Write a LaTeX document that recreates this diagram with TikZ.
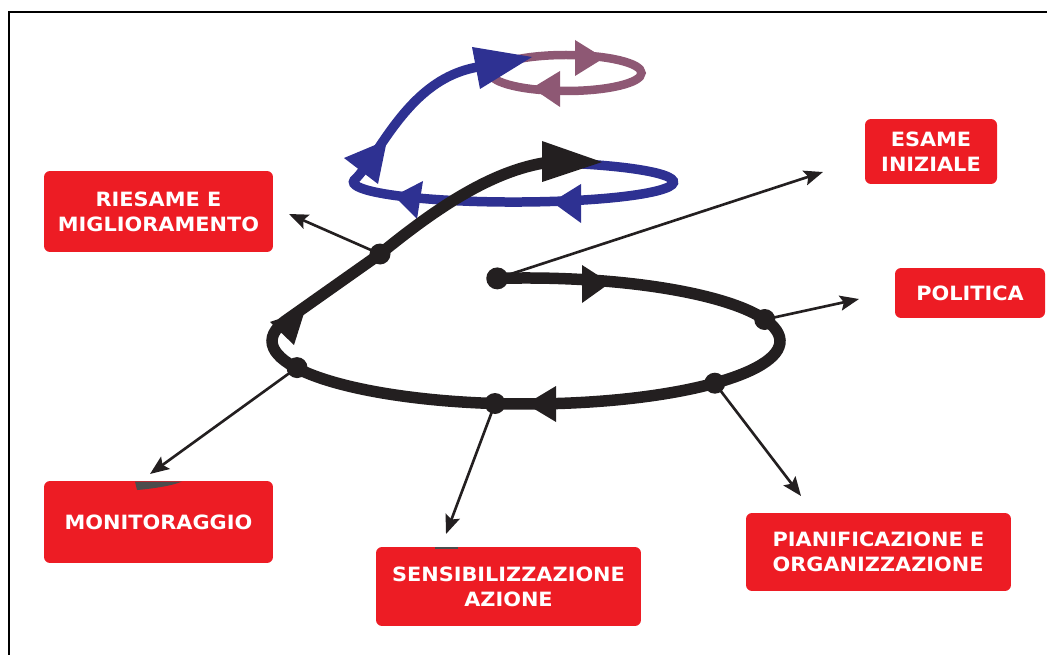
\documentclass[tikz,border=0pt]{standalone}
\usepackage{fontspec}
\newfontfamily\boxfont{DejaVu Sans}[FakeStretch=1.06]
\usetikzlibrary{arrows.meta}
\definecolor{boxred}{RGB}{237,28,36}
\definecolor{spblue}{RGB}{46,49,146}
\definecolor{spmauve}{RGB}{142,88,116}
\definecolor{spblack}{RGB}{35,31,32}
\begin{document}
\begin{tikzpicture}[x=0.02cm,y=-0.02cm,
  box/.style={fill=boxred, rounded corners=0.12cm, text=white,
    font=\boxfont\bfseries\fontsize{11.2pt}{14.4pt}\selectfont,
    align=center, inner sep=0pt},
  blackline/.style={draw=spblack, line width=0.23cm, line cap=round},
  blueline/.style={draw=spblue, line width=0.19cm},
  mauveline/.style={draw=spmauve, line width=0.17cm},
  pointer/.style={draw=spblack, line width=1.5pt,
    -{Stealth[length=0.38cm,width=0.3cm,inset=0.07cm]}},
  dotmark/.style={fill=spblack}]
\useasboundingbox (0,0) rectangle (1047,655);
% frame
\draw[line width=1pt, black] (9,655) -- (9,12) -- (1047,12);

% boxes
\node[box, minimum width=4.58cm, minimum height=1.62cm] (riesame) at (158.5,211.5) {RIESAME E\\MIGLIORAMENTO};
\node[box, minimum width=2.64cm, minimum height=1.30cm] (esame) at (931,151.5) {ESAME\\INIZIALE};
\node[box, minimum width=3.00cm, minimum height=1.00cm] (politica) at (970,293) {POLITICA};
\node[box, minimum width=4.58cm, minimum height=1.64cm] (monit) at (158.5,522) {MONITORAGGIO};
\node[box, minimum width=5.30cm, minimum height=1.58cm] (sensib) at (508.5,586.5) {SENSIBILIZZAZIONE\\AZIONE};
\node[box, minimum width=5.30cm, minimum height=1.56cm, align=left] (pianif) at (878.5,552) {PIANIFICAZIONE E\\ORGANIZZAZIONE};

% small grey marks on box tops
\fill[gray!60!black] (135,481.5) -- (182,481.5) .. controls (172,486) and (150,489) .. (137,490) -- cycle;
\fill[gray!60!black] (435,547) rectangle (458,549);

% mauve loop
\draw[mauveline] (566,73) ellipse [x radius=75.5, y radius=18];
\fill[spmauve] (575,40) -- (604,58) -- (575,76) -- cycle;
\fill[spmauve] (560,71) -- (532,88) -- (560,107) -- cycle;

% blue loop
\coordinate (bstart) at (581.1,163.9);
\draw[blueline] (bstart) arc[start angle=-65, end angle=190, x radius=160, y radius=20]
  .. controls (362,172) and (366,166) .. (372,158)
  .. controls (400,115) and (430,72) .. (485,66);
\fill[spblue] (581,184) -- (552,202) -- (581,223) -- cycle;
\fill[spblue] (423,181) -- (394,196) -- (417,219) -- cycle;
\fill[spblue] (344,158) -- (387,140) -- (378,184) -- cycle;
\fill[spblue] (472,47) -- (532,57) -- (480,89) -- cycle;

% black spiral
\coordinate (start) at (497.25,278.4);
\coordinate (rdot) at (380,254);
\draw[blackline] (start) arc[start angle=-96.5, end angle=200, x radius=254, y radius=63]
  -- (rdot) .. controls (440,205) and (500,165) .. (560,161);
\fill[spblack] (582,265) -- (610,283) -- (582,303) -- cycle;
\fill[spblack] (556,386) -- (526,404) -- (556,422) -- cycle;
\fill[spblack] (270,322) -- (305,310) -- (294,345) -- cycle;
\fill[spblack] (542,141) -- (602,162) -- (542,182) -- cycle;

% dots on the spiral
\coordinate (pdot) at (764.7,319.5);
\coordinate (andot) at (714.8,383.2);
\coordinate (sdot) at (495,403.5);
\coordinate (mdot) at (297,367.6);
\fill[dotmark] (start) circle[radius=11];
\foreach \d in {pdot,andot,sdot,mdot,rdot} \fill[dotmark] (\d) circle[radius=10.5];

% free ends of pointers
\coordinate (esametip) at (823,172);
\coordinate (politip) at (859,299);
\coordinate (piantip) at (801,496);
\coordinate (sentip) at (446,534);
\coordinate (montip) at (150,474);
\coordinate (riestip) at (289,214);

\draw[pointer] (start) -- (esametip);
\draw[pointer] (pdot) -- (politip);
\draw[pointer] (andot) -- (piantip);
\draw[pointer] (sdot) -- (sentip);
\draw[pointer] (mdot) -- (montip);
\draw[pointer] (rdot) -- (riestip);
\end{tikzpicture}
\end{document}
